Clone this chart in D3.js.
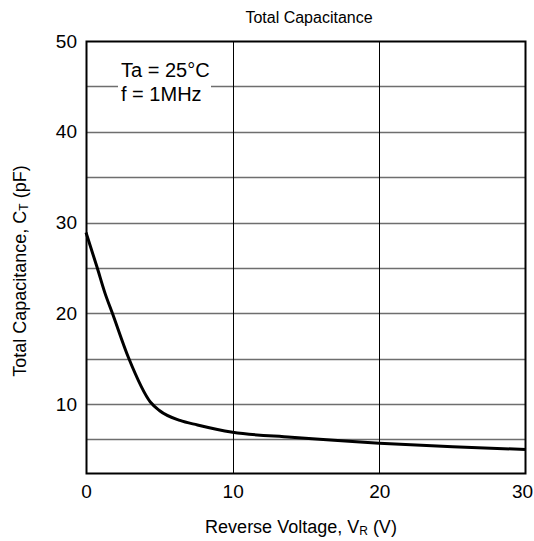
<!DOCTYPE html>
<html>
<head>
<meta charset="utf-8">
<script src="https://cdn.jsdelivr.net/npm/d3@7"></script>
<style>
  body { margin: 0; background: #fff; }
  text { font-family: "Liberation Sans", Arial, sans-serif; fill: #000; }
</style>
</head>
<body>
<svg id="chart" width="534" height="541"></svg>
<script>
// values
const voltage = [0, 0.75, 1.3, 1.8, 2.9, 4.4, 5.0, 6.4, 7.6, 10, 14, 20, 25, 30];
const capacitance = [28.9, 25.1, 22.2, 20.0, 15.1, 10.2, 9.3, 8.2, 7.7, 6.9, 6.35, 5.7, 5.3, 5.0];

const xTicks = [0, 10, 20, 30];
const yTicks = [10, 20, 30, 40, 50];
const yGrid = [6.2, 10, 15, 20, 25, 30, 35, 40, 45];
const legendLines = ['Ta = 25°C', 'f = 1MHz'];

const svg = d3.select('#chart');
const margin = {
  top: 41, right: 8, bottom: 67, left: 86,
};
const width = +svg.attr('width') - margin.left - margin.right;
const height = +svg.attr('height') - margin.top - margin.bottom;
const g = svg.append('g').attr('transform', `translate(${margin.left},${margin.top})`);

const x = d3.scaleLinear().domain([0, 30]).range([0, width]);
const y = d3.scaleLinear().domain([2.3, 50]).range([height, 0]);

// horizontal grid
g.append('g')
  .selectAll('line')
  .data(yGrid)
  .enter()
  .append('line')
  .attr('x1', 0)
  .attr('x2', width)
  .attr('y1', d => Math.round(y(d)) + 0.5)
  .attr('y2', d => Math.round(y(d)) + 0.5)
  .attr('stroke', '#6e6e6e')
  .attr('stroke-width', 1.3);

// vertical grid
g.append('g')
  .selectAll('line')
  .data(xTicks.slice(1, -1))
  .enter()
  .append('line')
  .attr('x1', d => Math.round(x(d)) + 0.5)
  .attr('x2', d => Math.round(x(d)) + 0.5)
  .attr('y1', 0)
  .attr('y2', height)
  .attr('stroke', '#000')
  .attr('stroke-width', 1);

// legend with white backing
const legend = g.append('g').attr('transform', 'translate(35,0)');
legend.append('rect')
  .attr('x', -3)
  .attr('y', 14)
  .attr('width', 93)
  .attr('height', 52)
  .attr('fill', '#fff');
legend.selectAll('text')
  .data(legendLines)
  .enter()
  .append('text')
  .attr('x', 0)
  .attr('y', (d, i) => 36 + i * 24)
  .attr('font-size', 20)
  .text(d => d);

// curve
const line = d3.line()
  .x(d => x(d[0]))
  .y(d => y(d[1]))
  .curve(d3.curveMonotoneX);

g.append('path')
  .datum(voltage.map((v, i) => [v, capacitance[i]]))
  .attr('fill', 'none')
  .attr('stroke', '#000')
  .attr('stroke-width', 3)
  .attr('stroke-linejoin', 'round')
  .attr('d', line);

// frame
g.append('rect')
  .attr('x', 0.5)
  .attr('y', 0.5)
  .attr('width', width - 1)
  .attr('height', height - 1)
  .attr('fill', 'none')
  .attr('stroke', '#000')
  .attr('stroke-width', 2);

// axes, labels only
g.append('g')
  .attr('transform', `translate(0,${height})`)
  .call(d3.axisBottom(x).tickValues(xTicks).tickSize(0).tickPadding(11))
  .call(a => a.select('.domain').remove())
  .selectAll('text')
  .attr('font-size', 19)
  .attr('dx', d => (d === 30 ? -4 : 0));

g.append('g')
  .call(d3.axisLeft(y).tickValues(yTicks).tickSize(0).tickPadding(9))
  .call(a => a.select('.domain').remove())
  .selectAll('text')
  .attr('font-size', 19);

// titles
svg.append('text')
  .attr('x', 309)
  .attr('y', 23)
  .attr('text-anchor', 'middle')
  .attr('font-size', 16)
  .text('Total Capacitance');

const xLabel = svg.append('text')
  .attr('x', 301)
  .attr('y', 533)
  .attr('text-anchor', 'middle')
  .attr('font-size', 18);
xLabel.append('tspan').text('Reverse Voltage, V');
xLabel.append('tspan').attr('font-size', 12).attr('dy', 2).text('R');
xLabel.append('tspan').attr('dy', -2).text(' (V)');

const yLabel = svg.append('text')
  .attr('transform', 'translate(26,271) rotate(-90)')
  .attr('text-anchor', 'middle')
  .attr('font-size', 18);
yLabel.append('tspan').text('Total Capacitance, C');
yLabel.append('tspan').attr('font-size', 12).attr('dy', 2).text('T');
yLabel.append('tspan').attr('dy', -2).text(' (pF)');
</script>
</body>
</html>
